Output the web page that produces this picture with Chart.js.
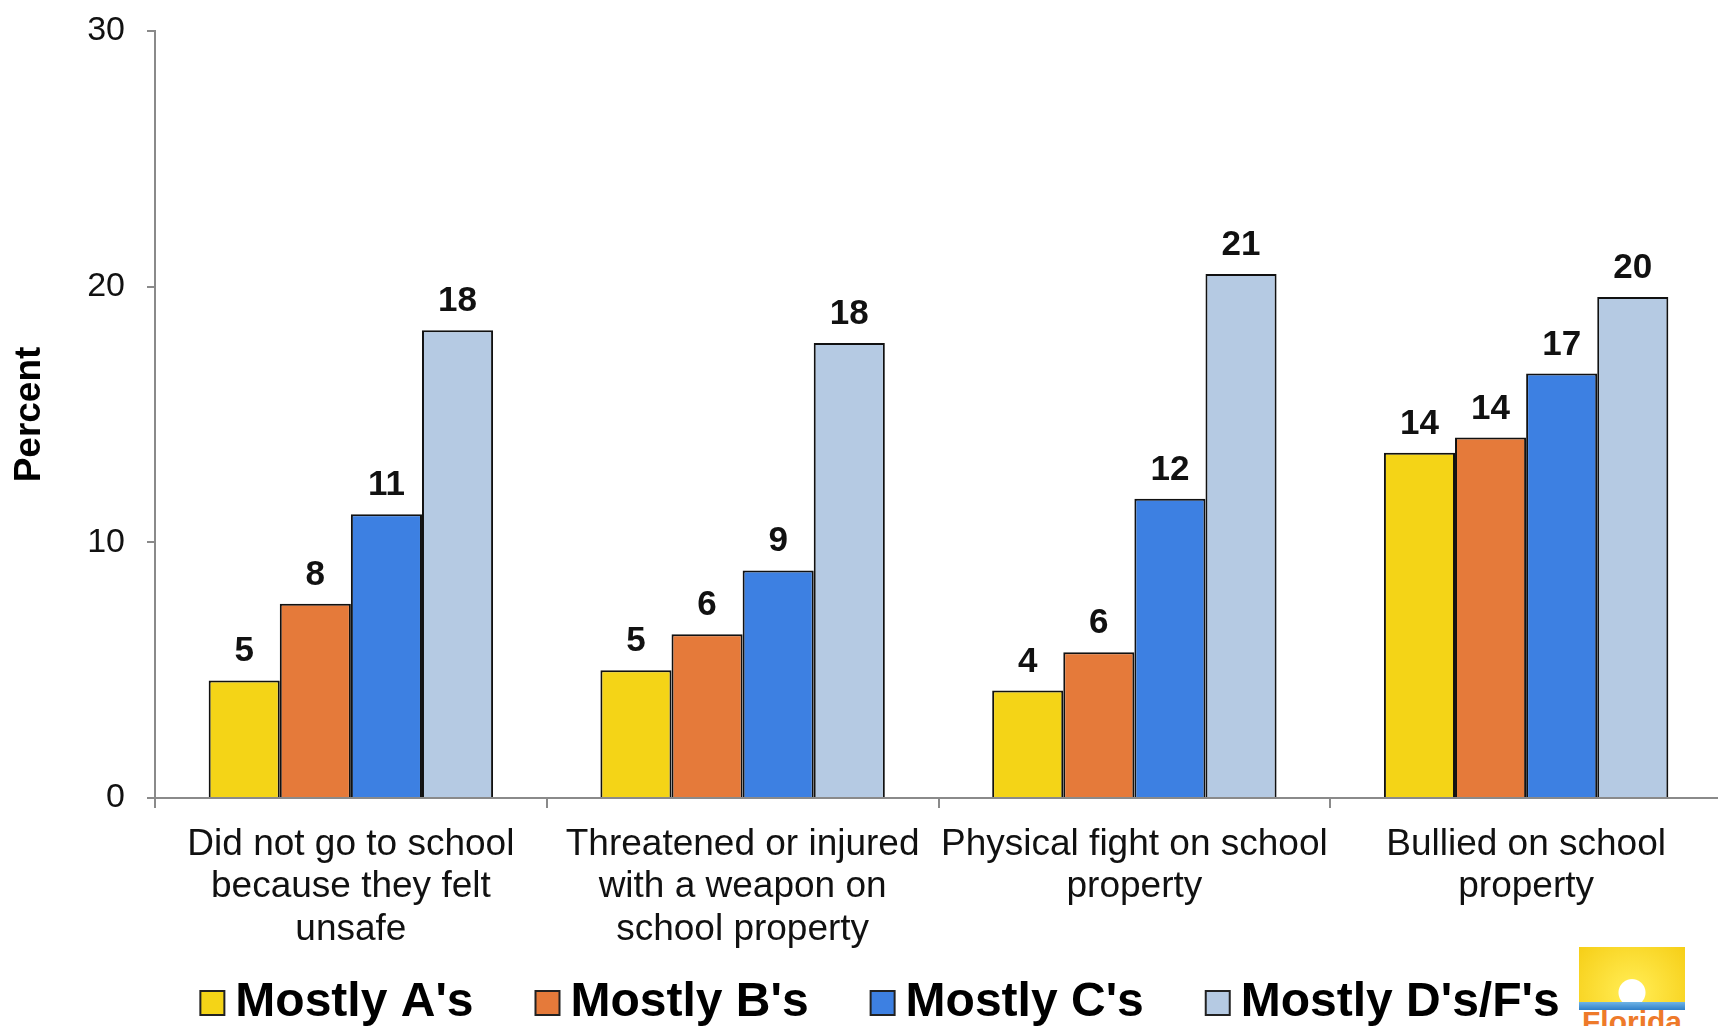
<!DOCTYPE html>
<html>
<head>
<meta charset="utf-8">
<script src="https://cdn.jsdelivr.net/npm/chart.js@4.4.1/dist/chart.umd.min.js"></script>
<style>
  html, body { margin: 0; padding: 0; background: #fff; width: 1718px; height: 1026px; overflow: hidden; }
  #wrap { position: absolute; left: 0; top: 0; width: 1722px; height: 1026px; }
  #logo { position: absolute; left: 1579px; top: 947px; width: 106px; height: 90px; overflow: hidden; background: #fff; }
  #sun { position: absolute; left: 0; top: 0; width: 106px; height: 57px;
         background: radial-gradient(circle at 50% 80%, #fff 0 13px, #ffe84a 14px, #f5cc12 75px); }
  #sea { position: absolute; left: 0; top: 55px; width: 106px; height: 8px; background: linear-gradient(#6fb4e6, #2f7fc8); }
  #logo span { position: absolute; left: 3px; top: 58px; font: bold 30px "Liberation Sans", Arial, sans-serif; color: #ee7a2a; }
</style>
</head>
<body>
<div id="wrap"><canvas id="chart"></canvas></div>
<div id="logo"><div id="sun"></div><div id="sea"></div><span>Florida</span></div>
<script>
// Safety at school by grades — four grade groups per behaviour.
const categories = [
  ["Did not go to school", "because they felt", "unsafe"],
  ["Threatened or injured", "with a weapon on", "school property"],
  ["Physical fight on school", "property"],
  ["Bullied on school", "property"],
];
const seriesNames = ["Mostly A's", "Mostly B's", "Mostly C's", "Mostly D's/F's"];
const mostlyA = [4.6, 5.0, 4.2, 13.5];
const mostlyB = [7.6, 6.4, 5.7, 14.1];
const mostlyC = [11.1, 8.9, 11.7, 16.6];
const mostlyDF = [18.3, 17.8, 20.5, 19.6];
const yTicks = [0, 10, 20, 30];

const COLORS = ["#f4d417", "#e57a3a", "#3d80e2", "#b5cae3"];
const FONT = "'Liberation Sans', Arial, sans-serif";
const AXIS = "#8a8a8a";

// Rounded value above each bar.
const valueLabels = {
  id: "valueLabels",
  afterDatasetsDraw(chart) {
    const ctx = chart.ctx;
    ctx.save();
    ctx.font = `bold 35px ${FONT}`;
    ctx.fillStyle = "#111";
    ctx.textAlign = "center";
    ctx.textBaseline = "alphabetic";
    chart.data.datasets.forEach((ds, i) => {
      chart.getDatasetMeta(i).data.forEach((bar, j) => {
        ctx.fillText(Math.round(ds.data[j]), bar.x, bar.y - 19);
      });
    });
    ctx.restore();
  },
};

// Legend row along the bottom edge (big bold labels, tight box-to-text gap).
const bottomLegend = {
  id: "bottomLegend",
  afterDraw(chart) {
    const ctx = chart.ctx;
    const box = 24, gap = 11, spacing = 62, cy = 1003, base = 1016;
    ctx.save();
    ctx.font = `bold 48px ${FONT}`;
    const items = chart.data.datasets.map((ds) => ({ ds, w: ctx.measureText(ds.label).width }));
    const total = items.reduce((s, it) => s + box + gap + it.w, 0) + spacing * (items.length - 1);
    let x = 880 - total / 2;
    items.forEach(({ ds, w }) => {
      ctx.fillStyle = ds.backgroundColor;
      ctx.fillRect(x, cy - box / 2, box, box);
      ctx.lineWidth = 2;
      ctx.strokeStyle = "#222";
      ctx.strokeRect(x, cy - box / 2, box, box);
      ctx.fillStyle = "#000";
      ctx.textBaseline = "alphabetic";
      ctx.fillText(ds.label, x + box + gap, base);
      x += box + gap + w + spacing;
    });
    ctx.restore();
  },
};

const series = [mostlyA, mostlyB, mostlyC, mostlyDF];
new Chart(document.getElementById("chart"), {
  type: "bar",
  data: {
    labels: categories,
    datasets: series.map((d, i) => ({
      label: seriesNames[i],
      data: d,
      backgroundColor: COLORS[i],
      borderColor: "#111",
      borderWidth: 2,
      categoryPercentage: 0.726,
      barPercentage: 1.0,
    })),
  },
  options: {
    responsive: true,
    maintainAspectRatio: false,
    animation: false,
    layout: { padding: { top: 31, left: 0, right: 0, bottom: 0 } },
    plugins: {
      tooltip: { enabled: false },
      legend: { display: false },
    },
    scales: {
      x: {
        grid: { offset: true, drawOnChartArea: false, tickLength: 10, color: AXIS, lineWidth: 2 },
        border: { color: AXIS, width: 2 },
        ticks: {
          color: "#111", font: { family: FONT, size: 37, lineHeight: 1.14 },
          padding: 16, maxRotation: 0, minRotation: 0, autoSkip: false,
        },
        afterFit: (s) => { s.height = 228; },
      },
      y: {
        min: 0, max: 30,
        afterBuildTicks: (s) => { s.ticks = yTicks.map((v) => ({ value: v })); },
        grid: { drawOnChartArea: false, tickLength: 8, color: AXIS, lineWidth: 2 },
        border: { color: AXIS, width: 2 },
        ticks: { color: "#111", font: { family: FONT, size: 34 }, padding: 22 },
        title: {
          display: true, text: "Percent", color: "#000",
          font: { family: FONT, size: 37, weight: "bold" },
          padding: { top: 8, bottom: 0 },
        },
        afterFit: (s) => { s.width = 155; s.paddingTop = 0; s.paddingBottom = 0; },
      },
    },
  },
  plugins: [valueLabels, bottomLegend],
});
</script>
</body>
</html>
